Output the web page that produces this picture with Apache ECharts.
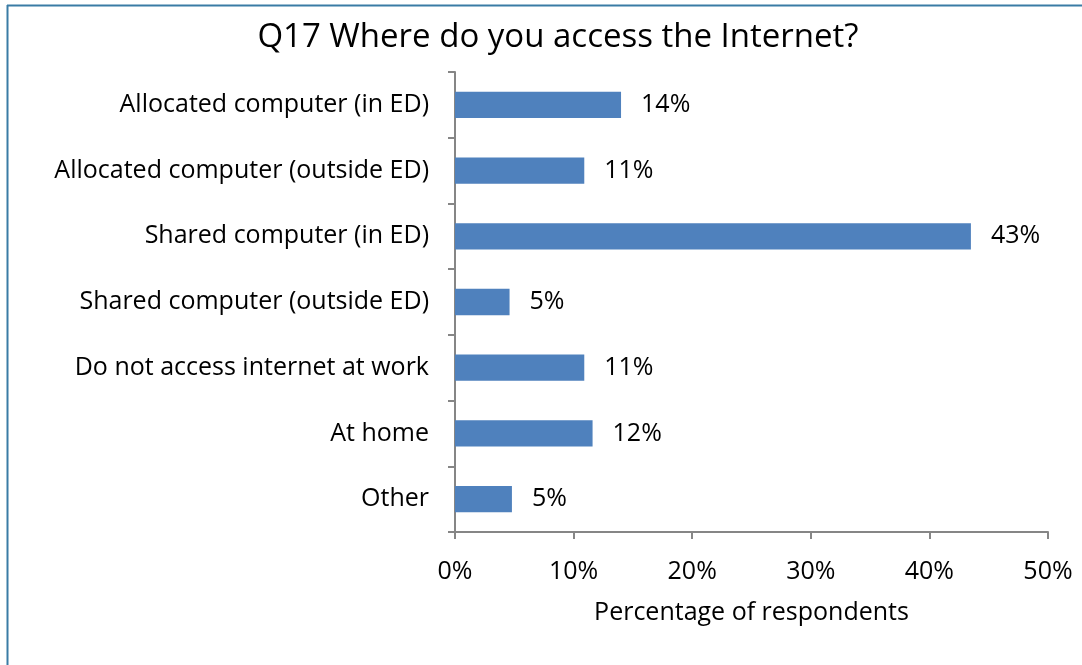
<!DOCTYPE html>
<html><head><meta charset="utf-8">
<script src="https://cdn.jsdelivr.net/npm/echarts@6/dist/echarts.min.js"></script>
<style>html,body{margin:0;padding:0;background:#fff}#c{width:1082px;height:665px}</style>
</head><body><div id="c"></div>
<script>
var categories = ["Allocated computer (in ED)","Allocated computer (outside ED)","Shared computer (in ED)","Shared computer (outside ED)","Do not access internet at work","At home","Other"];
var values = [14.0, 10.9, 43.5, 4.6, 10.9, 11.6, 4.8];
var labels = ["14%","11%","43%","5%","11%","12%","5%"];
var xTicks = [0,10,20,30,40,50];
var FONT = "Open Sans";
var chart = echarts.init(document.getElementById('c'));
chart.setOption({
  animation:false,
  title:{text:"Q17 Where do you access the Internet?",left:553,top:16,textAlign:'center',
    textStyle:{fontFamily:FONT,fontSize:33,fontWeight:'normal',color:'#000'}},
  graphic:[
    {type:'line',shape:{x1:7.5,y1:5,x2:7.5,y2:665},style:{stroke:'#3a7ca5',lineWidth:2}},
    {type:'line',shape:{x1:7,y1:5.5,x2:1082,y2:5.5},style:{stroke:'#3a7ca5',lineWidth:2}}
  ],
  grid:{left:455,right:34,top:72,bottom:133,containLabel:false},
  xAxis:{type:'value',min:0,max:50,interval:10,
    name:'Percentage of respondents',nameLocation:'middle',nameGap:68,
    nameTextStyle:{fontFamily:FONT,fontSize:25,color:'#000'},
    axisLine:{show:true,lineStyle:{color:'#868686',width:2}},
    axisTick:{show:true,length:7,lineStyle:{color:'#868686',width:2}},
    splitLine:{show:false},
    axisLabel:{margin:27,fontFamily:FONT,fontSize:25,color:'#000',formatter:function(v){return v+'%';}}
  },
  yAxis:{type:'category',data:categories,inverse:true,
    axisLine:{show:true,lineStyle:{color:'#868686',width:2}},
    axisTick:{show:true,length:7,inside:false,alignWithLabel:false,lineStyle:{color:'#868686',width:2}},
    axisLabel:{margin:26,fontFamily:FONT,fontSize:25,color:'#000'}
  },
  series:[{type:'bar',data:values,barWidth:'40%',
    itemStyle:{color:'#4F81BD'},
    label:{show:true,position:'right',distance:20,fontFamily:FONT,fontSize:25,color:'#000',
      formatter:function(p){return labels[p.dataIndex];}}
  }]
});
</script></body></html>
